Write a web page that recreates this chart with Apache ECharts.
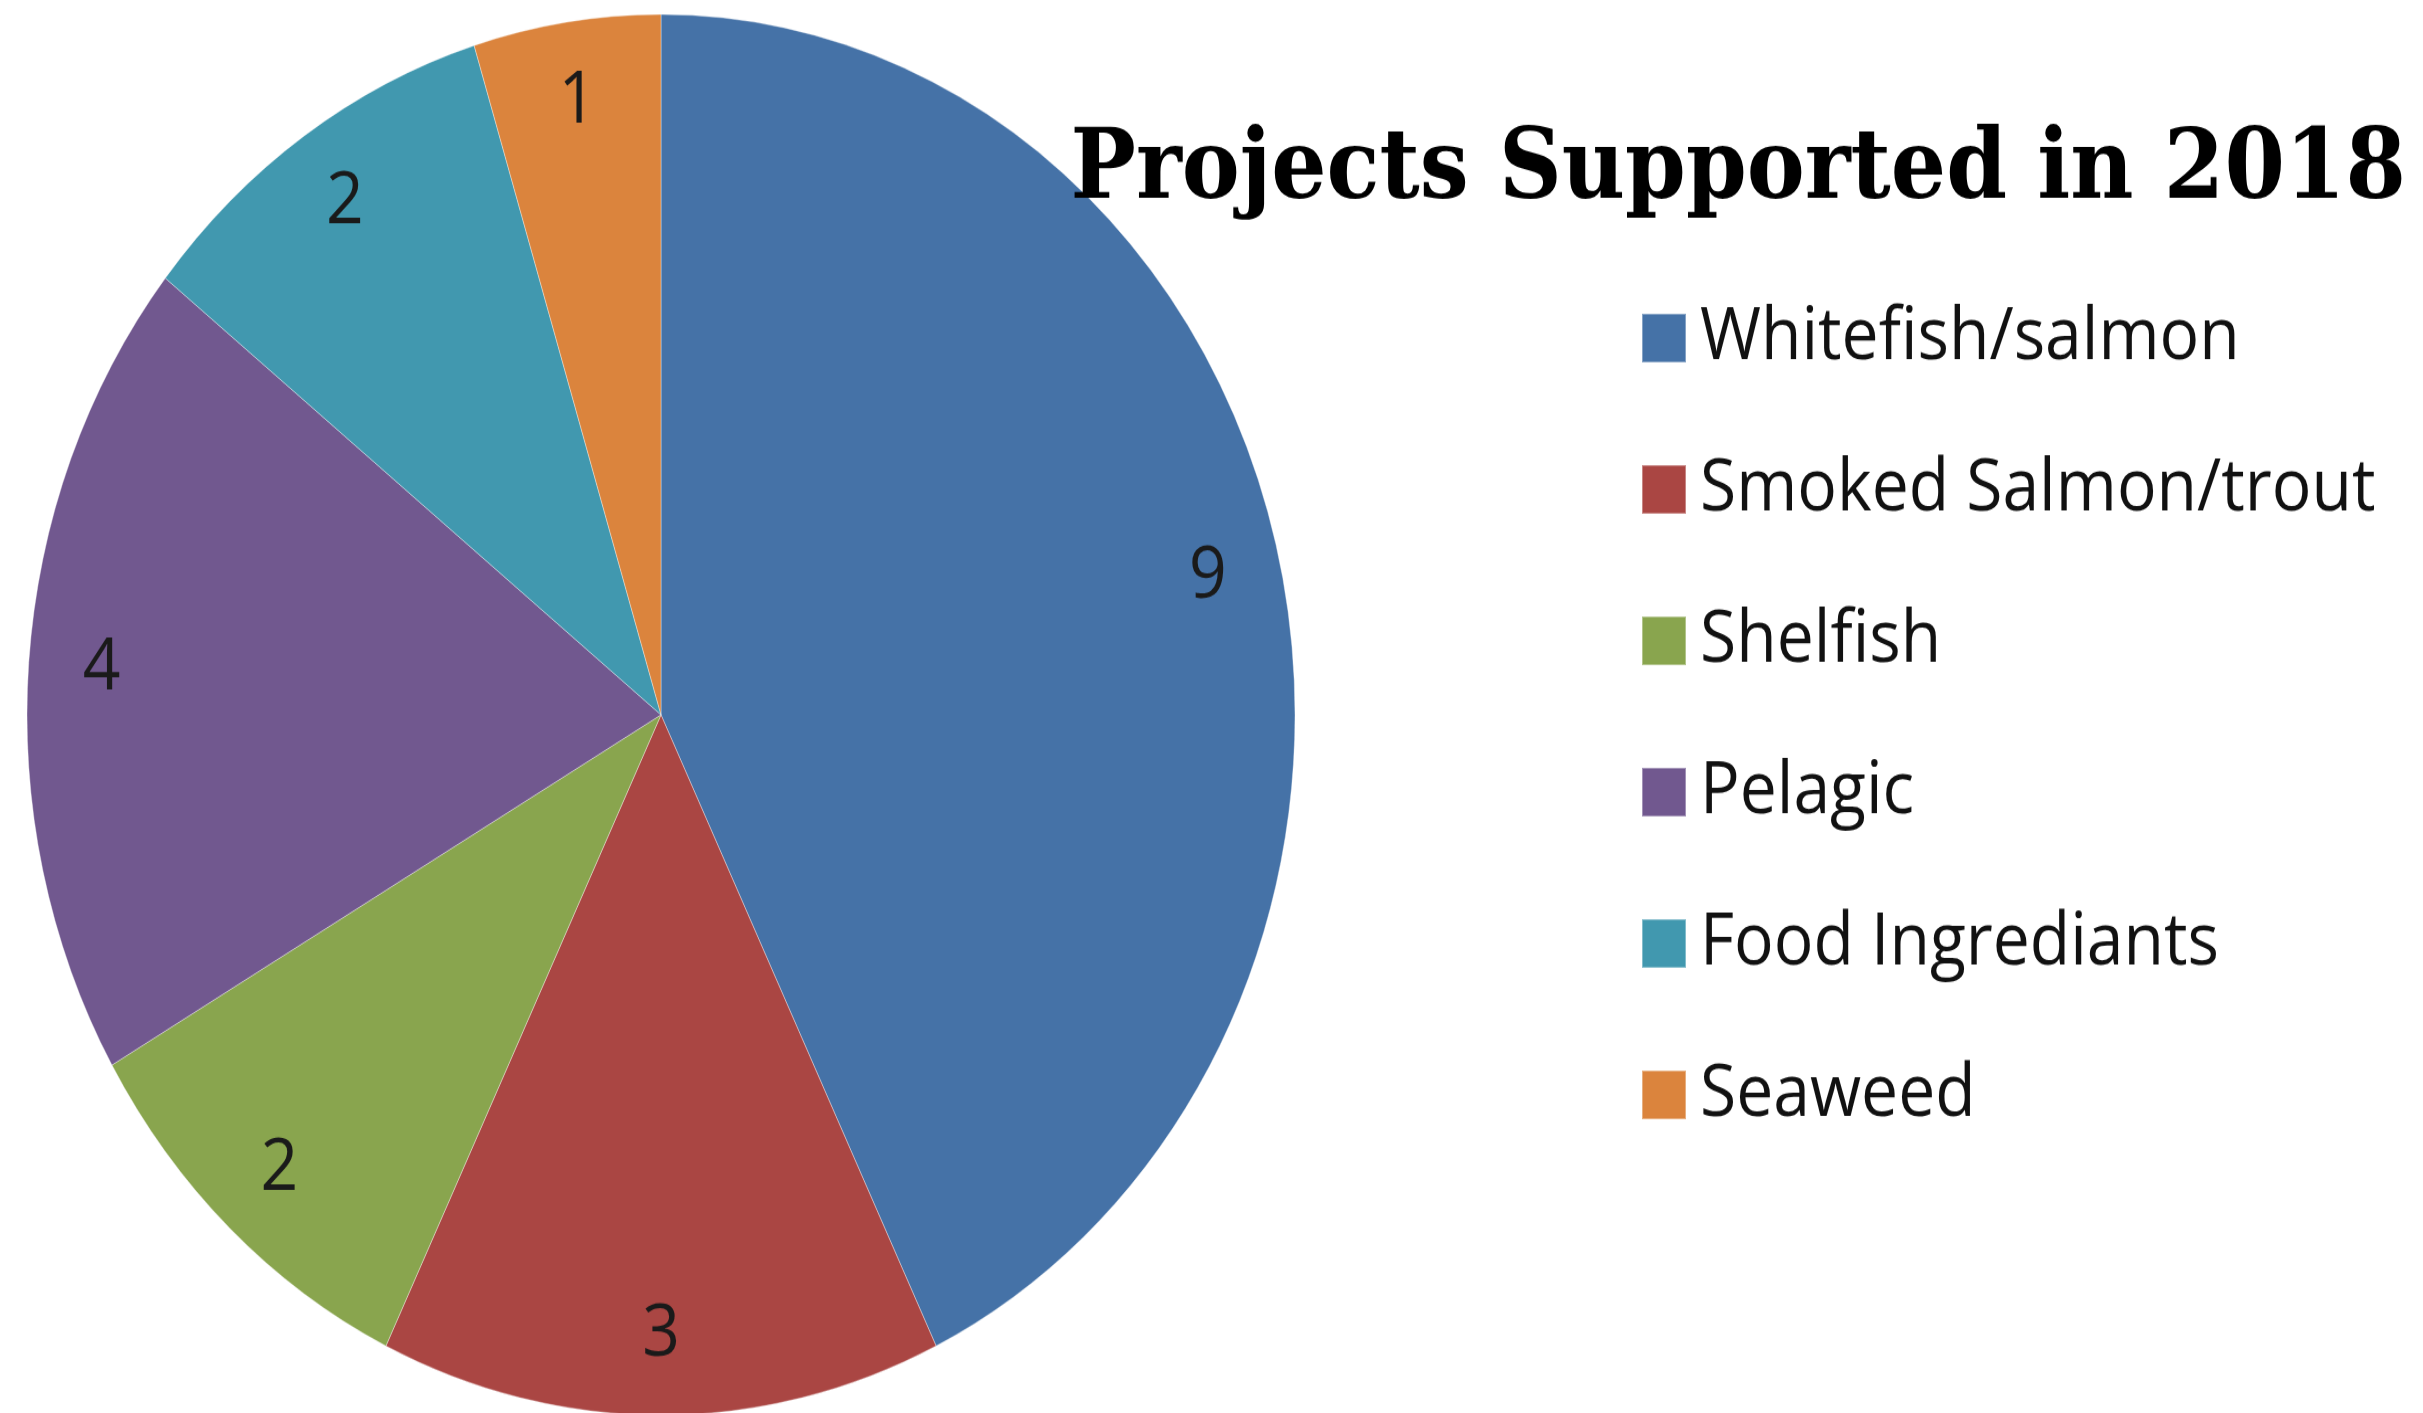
<!DOCTYPE html>
<html>
<head>
<meta charset="utf-8">
<script src="https://cdn.jsdelivr.net/npm/echarts@6/dist/echarts.min.js"></script>
<style>
  html, body { margin: 0; padding: 0; background: #ffffff; overflow: hidden; }
  #wrap { width: 2423px; height: 1413px; overflow: hidden; position: relative; }
  #chart { width: 2423px; height: 1279px; transform: scaleY(1.1048); transform-origin: 0 0; }
</style>
</head>
<body>
<div id="wrap"><div id="chart"></div></div>
<script>
const categories = ['Whitefish/salmon', 'Smoked Salmon/trout', 'Shelfish', 'Pelagic', 'Food Ingrediants', 'Seaweed'];
const projectCounts = [9, 3, 2, 4, 2, 1];
const sliceColors = ['#4572A7', '#AA4643', '#89A54E', '#71588F', '#4198AF', '#DB843D'];
const chartTitle = 'Projects Supported in 2018';

const pieData = categories.map((name, i) => ({ name: name, value: projectCounts[i] }));

const chart = echarts.init(document.getElementById('chart'), null, { renderer: 'canvas' });
chart.setOption({
  backgroundColor: '#ffffff',
  animation: false,
  color: sliceColors,
  title: {
    text: chartTitle,
    right: 12,
    top: 108,
    textStyle: { fontFamily: 'DejaVu Serif', fontWeight: 'bold', fontSize: 87, color: '#000000' }
  },
  legend: {
    orient: 'vertical',
    left: 1636,
    top: 268,
    data: categories,
    icon: 'rect',
    itemWidth: 44,
    itemHeight: 44,
    itemGap: 71,
    selectedMode: false,
    textStyle: { fontFamily: 'Open Sans', fontSize: 66, lineHeight: 66, color: '#111111', padding: [0, 0, 0, 9] }
  },
  series: [
    {
      type: 'pie',
      center: [661, 647],
      radius: [0, 634],
      startAngle: 90,
      clockwise: true,
      data: pieData,
      label: { show: false },
      labelLine: { show: false },
      itemStyle: { borderColor: 'rgba(255,255,255,0.35)', borderWidth: 1 },
      emphasis: { disabled: true }
    },
    {
      type: 'pie',
      center: [661, 647],
      radius: [482, 634],
      startAngle: 90,
      clockwise: true,
      silent: true,
      data: pieData,
      itemStyle: { color: 'rgba(0,0,0,0)' },
      label: {
        show: true,
        position: 'inside',
        formatter: '{c}',
        fontFamily: 'Open Sans',
        fontSize: 66,
        color: '#1a1a1a'
      },
      labelLine: { show: false },
      emphasis: { disabled: true }
    }
  ]
});
</script>
</body>
</html>
